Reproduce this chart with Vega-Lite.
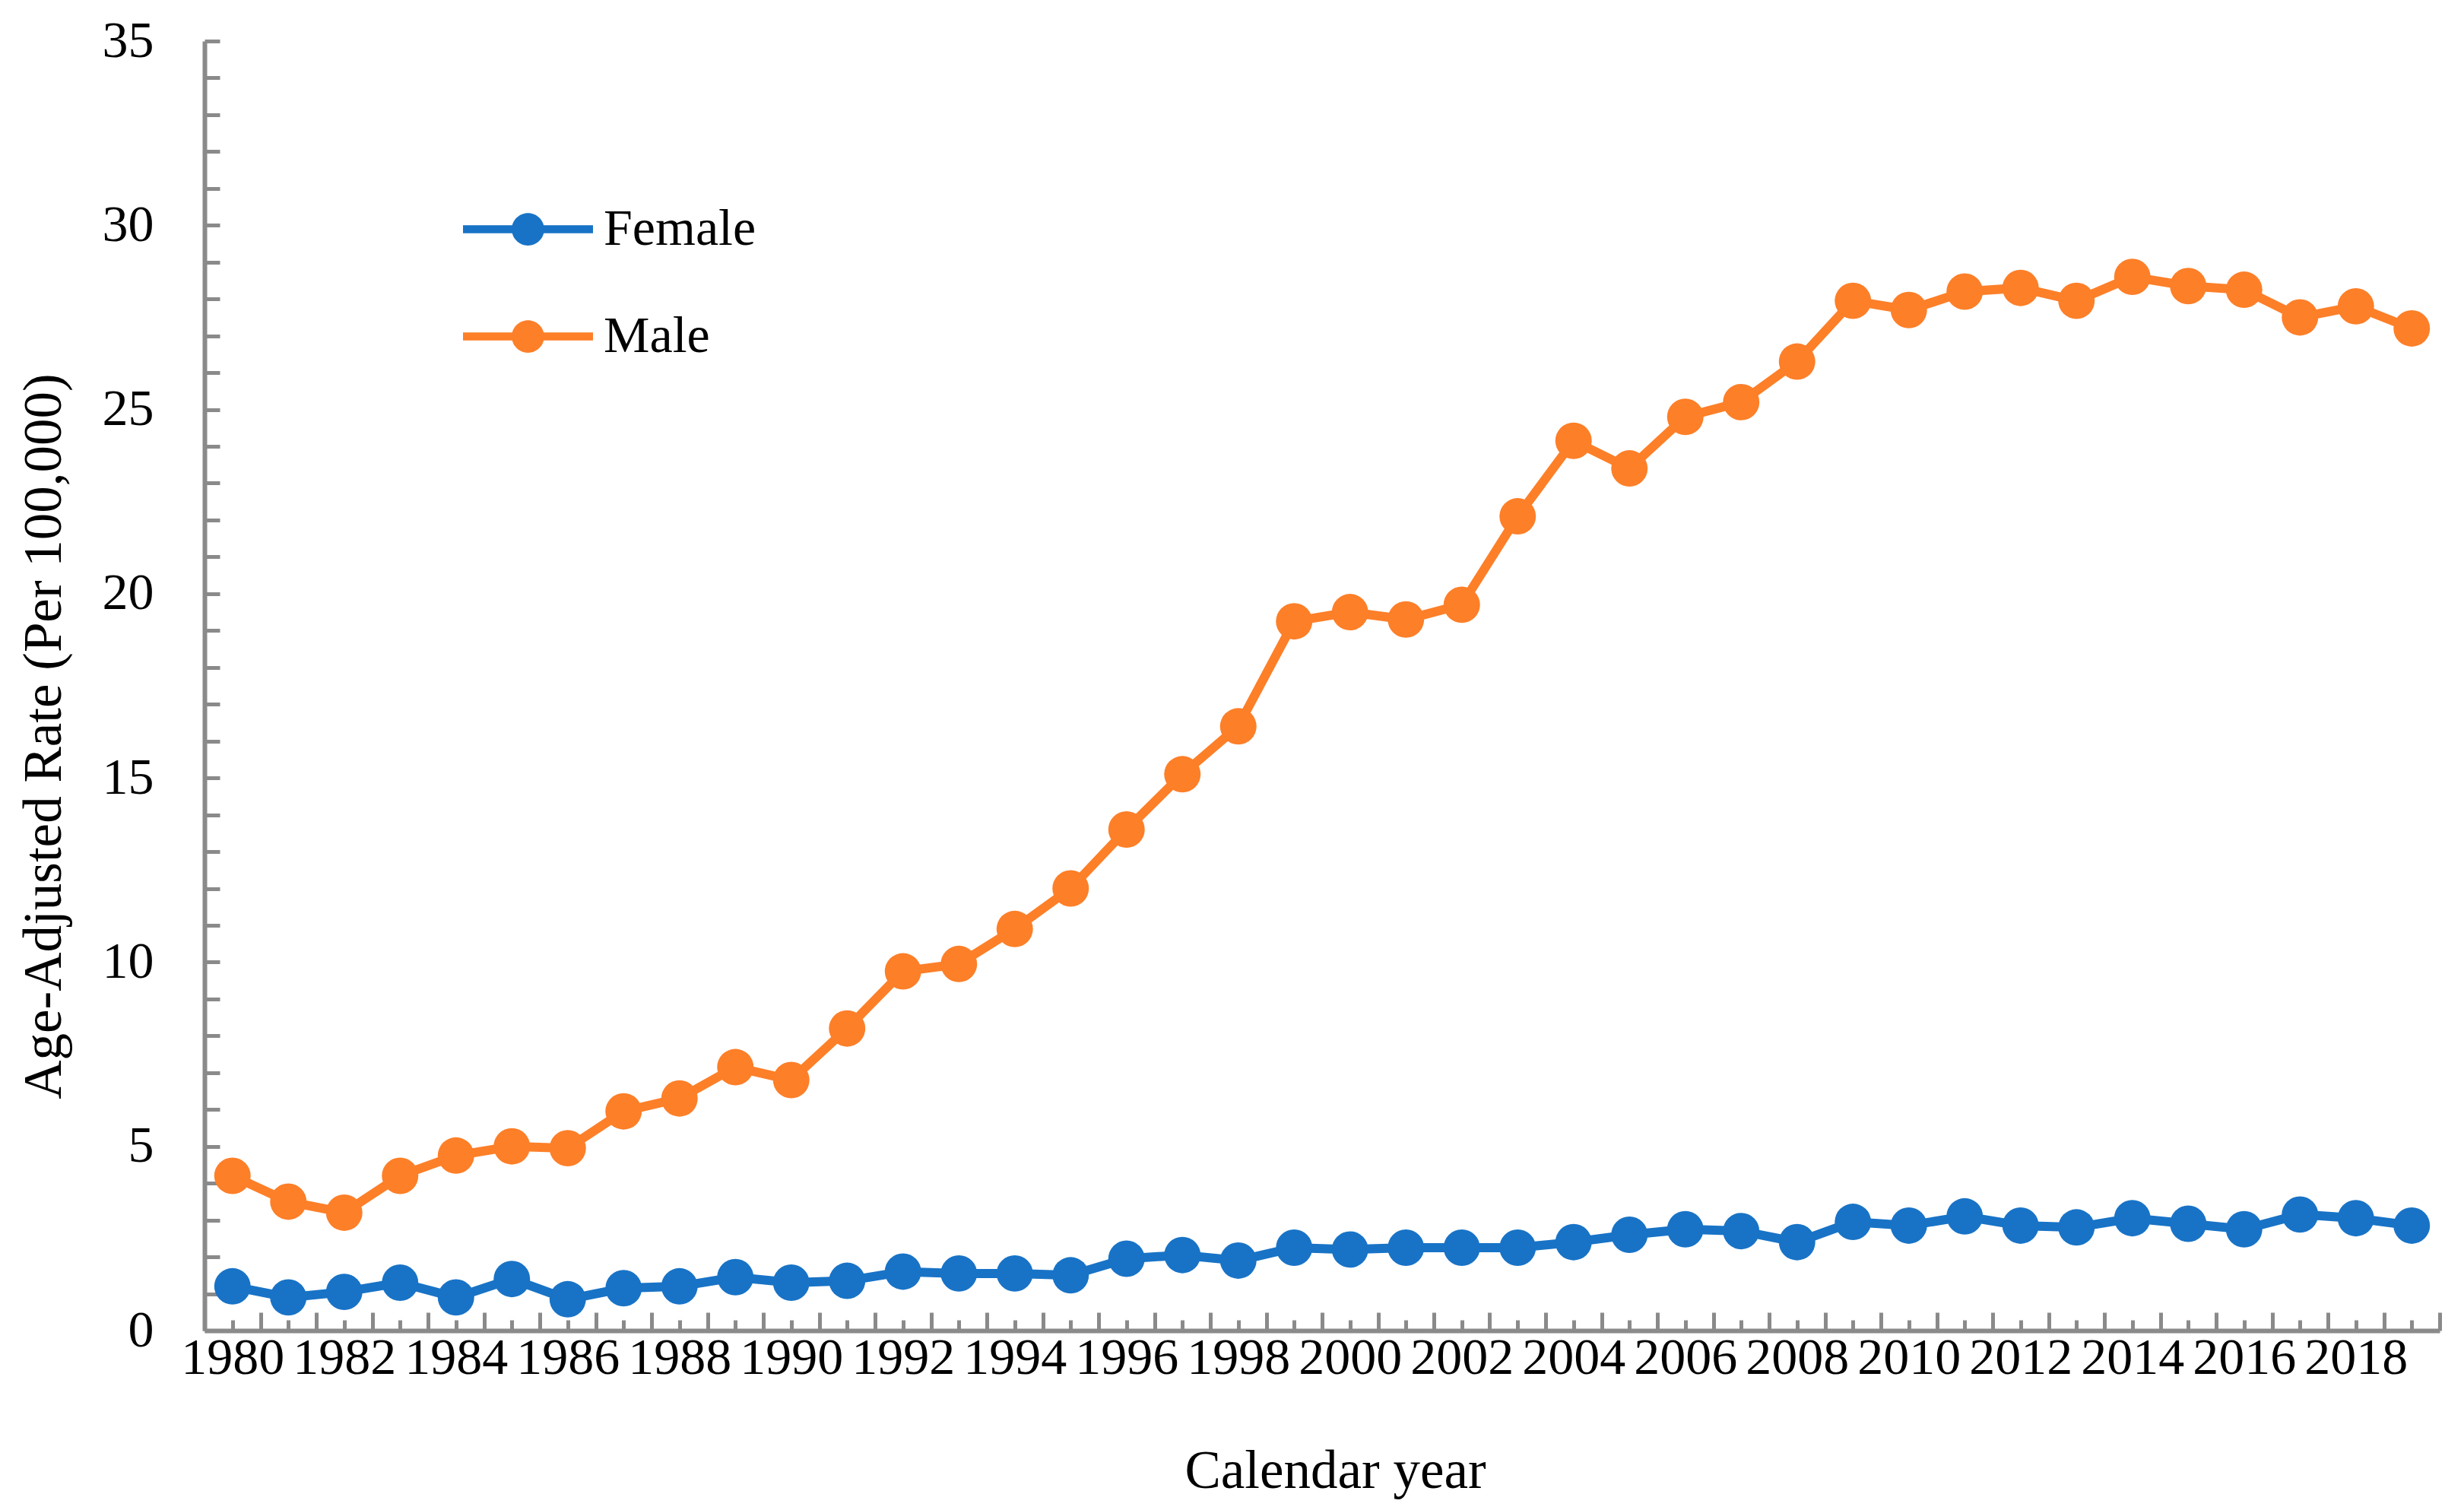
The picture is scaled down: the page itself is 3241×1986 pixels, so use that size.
{
  "$schema": "https://vega.github.io/schema/vega-lite/v6.json",
  "width": 2940,
  "height": 1696,
  "autosize": {"type": "none"},
  "padding": {"left": 269, "top": 54, "right": 32, "bottom": 236},
  "background": "white",
  "config": {
    "view": {"stroke": null},
    "font": "Liberation Serif",
    "axis": {
      "grid": false,
      "domainColor": "#8a8a8a",
      "domainWidth": 6,
      "tickColor": "#8a8a8a",
      "tickWidth": 5,
      "labelColor": "#000000",
      "titleColor": "#000000",
      "labelFont": "Liberation Serif",
      "titleFont": "Liberation Serif",
      "labelFontSize": 68,
      "titleFontSize": 71,
      "titleFontWeight": "normal",
      "labelOverlap": false,
      "labelFlush": false
    }
  },
  "data": {
    "values": [
      {"year": 1980, "sex": "Female", "rate": 1.2},
      {"year": 1981, "sex": "Female", "rate": 0.9},
      {"year": 1982, "sex": "Female", "rate": 1.05},
      {"year": 1983, "sex": "Female", "rate": 1.3},
      {"year": 1984, "sex": "Female", "rate": 0.9},
      {"year": 1985, "sex": "Female", "rate": 1.4},
      {"year": 1986, "sex": "Female", "rate": 0.85},
      {"year": 1987, "sex": "Female", "rate": 1.15},
      {"year": 1988, "sex": "Female", "rate": 1.2},
      {"year": 1989, "sex": "Female", "rate": 1.45},
      {"year": 1990, "sex": "Female", "rate": 1.3},
      {"year": 1991, "sex": "Female", "rate": 1.35},
      {"year": 1992, "sex": "Female", "rate": 1.6},
      {"year": 1993, "sex": "Female", "rate": 1.55},
      {"year": 1994, "sex": "Female", "rate": 1.55},
      {"year": 1995, "sex": "Female", "rate": 1.5},
      {"year": 1996, "sex": "Female", "rate": 1.95},
      {"year": 1997, "sex": "Female", "rate": 2.05},
      {"year": 1998, "sex": "Female", "rate": 1.9},
      {"year": 1999, "sex": "Female", "rate": 2.25},
      {"year": 2000, "sex": "Female", "rate": 2.2},
      {"year": 2001, "sex": "Female", "rate": 2.25},
      {"year": 2002, "sex": "Female", "rate": 2.25},
      {"year": 2003, "sex": "Female", "rate": 2.25},
      {"year": 2004, "sex": "Female", "rate": 2.4},
      {"year": 2005, "sex": "Female", "rate": 2.6},
      {"year": 2006, "sex": "Female", "rate": 2.75},
      {"year": 2007, "sex": "Female", "rate": 2.7},
      {"year": 2008, "sex": "Female", "rate": 2.4},
      {"year": 2009, "sex": "Female", "rate": 2.95},
      {"year": 2010, "sex": "Female", "rate": 2.85},
      {"year": 2011, "sex": "Female", "rate": 3.1},
      {"year": 2012, "sex": "Female", "rate": 2.85},
      {"year": 2013, "sex": "Female", "rate": 2.8},
      {"year": 2014, "sex": "Female", "rate": 3.05},
      {"year": 2015, "sex": "Female", "rate": 2.9},
      {"year": 2016, "sex": "Female", "rate": 2.75},
      {"year": 2017, "sex": "Female", "rate": 3.15},
      {"year": 2018, "sex": "Female", "rate": 3.05},
      {"year": 2019, "sex": "Female", "rate": 2.85},
      {"year": 1980, "sex": "Male", "rate": 4.2},
      {"year": 1981, "sex": "Male", "rate": 3.5},
      {"year": 1982, "sex": "Male", "rate": 3.2},
      {"year": 1983, "sex": "Male", "rate": 4.2},
      {"year": 1984, "sex": "Male", "rate": 4.75},
      {"year": 1985, "sex": "Male", "rate": 5.0},
      {"year": 1986, "sex": "Male", "rate": 4.95},
      {"year": 1987, "sex": "Male", "rate": 5.95},
      {"year": 1988, "sex": "Male", "rate": 6.3},
      {"year": 1989, "sex": "Male", "rate": 7.15},
      {"year": 1990, "sex": "Male", "rate": 6.8},
      {"year": 1991, "sex": "Male", "rate": 8.2},
      {"year": 1992, "sex": "Male", "rate": 9.75},
      {"year": 1993, "sex": "Male", "rate": 9.95},
      {"year": 1994, "sex": "Male", "rate": 10.9},
      {"year": 1995, "sex": "Male", "rate": 12.0},
      {"year": 1996, "sex": "Male", "rate": 13.6},
      {"year": 1997, "sex": "Male", "rate": 15.1},
      {"year": 1998, "sex": "Male", "rate": 16.4},
      {"year": 1999, "sex": "Male", "rate": 19.25},
      {"year": 2000, "sex": "Male", "rate": 19.5},
      {"year": 2001, "sex": "Male", "rate": 19.3},
      {"year": 2002, "sex": "Male", "rate": 19.7},
      {"year": 2003, "sex": "Male", "rate": 22.1},
      {"year": 2004, "sex": "Male", "rate": 24.15},
      {"year": 2005, "sex": "Male", "rate": 23.4},
      {"year": 2006, "sex": "Male", "rate": 24.8},
      {"year": 2007, "sex": "Male", "rate": 25.2},
      {"year": 2008, "sex": "Male", "rate": 26.3},
      {"year": 2009, "sex": "Male", "rate": 27.95},
      {"year": 2010, "sex": "Male", "rate": 27.7},
      {"year": 2011, "sex": "Male", "rate": 28.2},
      {"year": 2012, "sex": "Male", "rate": 28.3},
      {"year": 2013, "sex": "Male", "rate": 27.95},
      {"year": 2014, "sex": "Male", "rate": 28.6},
      {"year": 2015, "sex": "Male", "rate": 28.35},
      {"year": 2016, "sex": "Male", "rate": 28.25},
      {"year": 2017, "sex": "Male", "rate": 27.5},
      {"year": 2018, "sex": "Male", "rate": 27.8},
      {"year": 2019, "sex": "Male", "rate": 27.2}
    ]
  },
  "layer": [
    {
      "mark": {"type": "line", "strokeWidth": 12, "point": {"filled": true, "size": 2300, "opacity": 1}},
      "encoding": {
        "x": {
          "field": "year",
          "type": "quantitative",
          "scale": {"domain": [1979.5, 2019.5], "nice": false, "zero": false},
          "axis": {
            "orient": "bottom",
            "title": "Calendar year",
            "titleX": 1487,
            "values": [1980, 1981, 1982, 1983, 1984, 1985, 1986, 1987, 1988, 1989, 1990, 1991, 1992, 1993, 1994, 1995, 1996, 1997, 1998, 1999, 2000, 2001, 2002, 2003, 2004, 2005, 2006, 2007, 2008, 2009, 2010, 2011, 2012, 2013, 2014, 2015, 2016, 2017, 2018, 2019],
            "format": "d",
            "labelExpr": "datum.value % 2 === 0 ? datum.label : ''",
            "ticks": true,
            "tickSize": -14,
            "labelPadding": 16,
            "titlePadding": 80
          }
        },
        "y": {
          "field": "rate",
          "type": "quantitative",
          "scale": {"domain": [0, 35], "nice": false},
          "axis": {
            "title": "Age-Adjusted Rate (Per 100,000)",
            "values": [0, 1, 2, 3, 4, 5, 6, 7, 8, 9, 10, 11, 12, 13, 14, 15, 16, 17, 18, 19, 20, 21, 22, 23, 24, 25, 26, 27, 28, 29, 30, 31, 32, 33, 34, 35],
            "labelExpr": "datum.value % 5 === 0 ? datum.label : ''",
            "tickSize": -20,
            "labelPadding": 87,
            "titlePadding": 40,
            "titleY": 914
          }
        },
        "color": {
          "field": "sex",
          "type": "nominal",
          "scale": {"domain": ["Female", "Male"], "range": ["#1873C6", "#FD7F28"]},
          "legend": {
            "orient": "none",
            "legendX": 340,
            "legendY": 162,
            "title": null,
            "direction": "vertical",
            "symbolType": "M -1 -0.06 H -0.24 V 0.06 H -1 Z M 0.24 -0.06 H 1 V 0.06 H 0.24 Z M 0.25 0 A 0.25 0.25 0 1 1 -0.25 0 A 0.25 0.25 0 1 1 0.25 0 Z",
            "symbolSize": 29241,
            "labelFontSize": 68,
            "labelFont": "Liberation Serif",
            "labelColor": "#000000",
            "labelLimit": 0,
            "labelOffset": 14,
            "rowPadding": 21,
            "encode": {
              "symbols": {
                "update": {
                  "fill": {"scale": "color", "field": "value"},
                  "strokeWidth": {"value": 0},
                  "opacity": {"value": 1}
                }
              }
            }
          }
        }
      }
    },
    {
      "mark": {"type": "point", "opacity": 0},
      "encoding": {
        "x": {
          "field": "year",
          "type": "quantitative",
          "axis": {
            "orient": "bottom",
            "title": null,
            "values": [1979.5, 1980.5, 1981.5, 1982.5, 1983.5, 1984.5, 1985.5, 1986.5, 1987.5, 1988.5, 1989.5, 1990.5, 1991.5, 1992.5, 1993.5, 1994.5, 1995.5, 1996.5, 1997.5, 1998.5, 1999.5, 2000.5, 2001.5, 2002.5, 2003.5, 2004.5, 2005.5, 2006.5, 2007.5, 2008.5, 2009.5, 2010.5, 2011.5, 2012.5, 2013.5, 2014.5, 2015.5, 2016.5, 2017.5, 2018.5, 2019.5],
            "labels": false,
            "domain": false,
            "ticks": true,
            "tickSize": -24
          }
        }
      }
    }
  ],
  "resolve": {"axis": {"x": "independent"}}
}
